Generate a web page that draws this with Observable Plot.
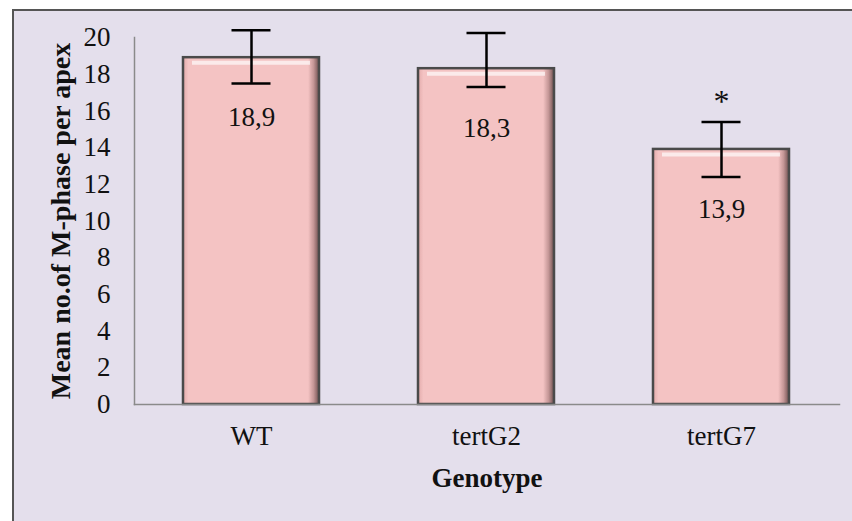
<!DOCTYPE html>
<html>
<head>
<meta charset="utf-8">
<script src="https://cdn.jsdelivr.net/npm/d3@7"></script>
<script src="https://cdn.jsdelivr.net/npm/@observablehq/plot@0.6"></script>
<style>
  html, body { margin: 0; padding: 0; background: #ffffff; }
  #frame {
    position: absolute; left: 12px; top: 9px;
    width: 840px; height: 512px;
    border-top: 2px solid #555; border-left: 2px solid #555;
    background: #E4DFEC; overflow: hidden;
  }
  #frame svg { display: block; font-family: "Liberation Serif", "Times New Roman", serif; }
  #frame svg text { font-family: "Liberation Serif", "Times New Roman", serif; }
  [aria-label="x-axis label"] text, [aria-label="y-axis label"] text,
  [aria-label="x-axis label"], [aria-label="y-axis label"] { font-weight: bold; }
</style>
</head>
<body>
<div id="frame"></div>
<script>
const genotypes = ["WT", "tertG2", "tertG7"];
const means = [18.9, 18.3, 13.9];
const errLow = [17.5, 17.3, 12.4];
const errHigh = [20.4, 20.25, 15.4];
const valueLabels = ["18,9", "18,3", "13,9"];
const marks = ["", "", "*"];
const yTicks = [0, 2, 4, 6, 8, 10, 12, 14, 16, 18, 20];

const data = genotypes.map((g, i) => ({
  g, v: means[i], lo: errLow[i], hi: errHigh[i], lab: valueLabels[i], star: marks[i]
}));

const chart = Plot.plot({
  width: 838,
  height: 510,
  marginLeft: 120,
  marginRight: 13,
  marginTop: 26,
  marginBottom: 117,
  style: { fontSize: "27px", color: "#111", background: "transparent", overflow: "visible" },
  x: { domain: genotypes, paddingInner: 0.421, paddingOuter: 0.21 },
  y: { domain: [0, 20] },
  marks: [
    Plot.barY(data, { x: "g", y: "v", fill: "url(#barGrad)", stroke: "#4a4a4a", strokeWidth: 2.5 }),
    Plot.tickY(data, { x: "g", y: "v", dy: 5, stroke: "#ffffff", strokeWidth: 4, strokeOpacity: 0.65, inset: 9 }),
    Plot.ruleX(data, { x: "g", y1: "lo", y2: "hi", stroke: "#000", strokeWidth: 2.5 }),
    Plot.tickY(data, { x: "g", y: "lo", stroke: "#000", strokeWidth: 2.5, inset: 48.5 }),
    Plot.tickY(data, { x: "g", y: "hi", stroke: "#000", strokeWidth: 2.5, inset: 48.5 }),
    Plot.text(data, { x: "g", y: "v", text: "lab", dy: 60, fontSize: 27, fill: "#111" }),
    Plot.text(data, { x: "g", y: "hi", text: "star", dy: -20, fontSize: 32, fill: "#111" }),
    Plot.axisY({ ticks: yTicks, tickSize: 0, tickPadding: 24, label: null, fontSize: 27 }),
    Plot.axisY({ ticks: [], tickSize: 0, label: "Mean no.of M-phase per apex", labelArrow: "none", labelAnchor: "center", labelOffset: 84, fontSize: 28 }),
    Plot.axisX({ tickSize: 0, tickPadding: 21, label: null, fontSize: 27 }),
    Plot.axisX({ ticks: [], tickSize: 0, label: "Genotype", labelArrow: "none", labelAnchor: "center", labelOffset: 82, fontSize: 27 }),
    Plot.frame({ anchor: "left", stroke: "#8a8a8a", strokeWidth: 1.5 }),
    Plot.frame({ anchor: "bottom", stroke: "#8a8a8a", strokeWidth: 1.5 })
  ]
});

const ns = "http://www.w3.org/2000/svg";
const defs = document.createElementNS(ns, "defs");
defs.innerHTML = `
  <linearGradient id="barGrad" x1="0" y1="0" x2="1" y2="0">
    <stop offset="0" stop-color="#e2aaaa"/>
    <stop offset="0.04" stop-color="#f4c3c3"/>
    <stop offset="0.92" stop-color="#f4c3c3"/>
    <stop offset="0.96" stop-color="#c49696"/>
    <stop offset="1" stop-color="#6e5050"/>
  </linearGradient>`;
chart.insertBefore(defs, chart.firstChild);
document.getElementById("frame").appendChild(chart);
</script>
</body>
</html>
